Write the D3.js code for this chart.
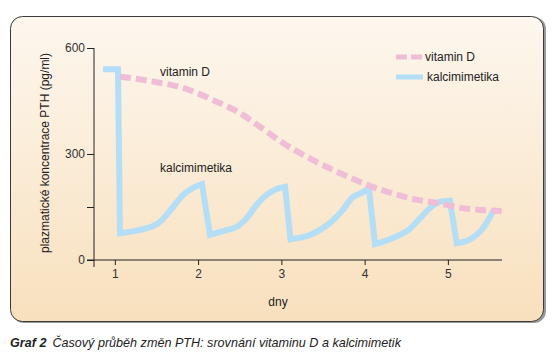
<!DOCTYPE html>
<html>
<head>
<meta charset="utf-8">
<script src="https://cdn.jsdelivr.net/npm/d3@7"></script>
<style>
body{margin:0;background:#fff;}
text{font-family:"Liberation Sans",Arial,sans-serif;fill:#222;}
</style>
</head>
<body>
<script>
(function(){
//chart data
var xTicks = [1,2,3,4,5];
var yTicks = [0,150,300,600];
var yTickLabels = ["0","","300","600"];

//vitamin D - slow decrease (day, PTH pg/ml)
var vitDDays = [1.062,1.459,1.819,2.223,2.503,2.743,3.02,3.304,3.62,4.04,4.325,4.64,4.88,5.2,5.646];
var vitDValues = [519,505,487,448,416,377,331,292,255,212,189,170,161,146,139];

//kalcimimetika - daily saw-tooth
var kalcDays = [0.858,1.038,1.062,1.302,1.543,1.699,1.819,1.939,2.047,
    2.143,2.299,2.464,2.584,2.72,2.824,2.944,3.044,
    3.11,3.344,3.584,3.74,3.845,3.965,4.053,
    4.125,4.325,4.525,4.685,4.805,4.905,5.025,
    5.106,5.286,5.406,5.485,5.545];
var kalcValues = [540,540,76,85,108,150,184,204,215,
    71,82,94,119,161,184,201,207,
    59,71,105,142,175,190,201,
    45,61,85,123,151,165,168,
    47,61,85,113,139];
//indices of points where the line has a sharp corner (dose given)
var kalcCorners = [1,2,8,9,16,17,23,24,30,31];

var seriesNames = ["vitamin D","kalcimimetika"];
var colors = ["#f0bdd7","#b4def5"];

window.onload = drawChart();

function drawChart(){
    var width = 555,
        height = 364;

    var svg = d3.select("body")
        .append("svg")
        .attr("width", width)
        .attr("height", height);

    //background gradient of the panel
    var grad = svg.append("defs")
        .append("linearGradient")
        .attr("id", "bg")
        .attr("x1", 0).attr("y1", 0)
        .attr("x2", 0).attr("y2", 1);
    grad.append("stop").attr("offset", "0%").attr("stop-color", "#fdf7ef");
    grad.append("stop").attr("offset", "100%").attr("stop-color", "#f8e0bd");

    //shadow on the right side
    svg.append("rect")
        .attr("x", 12).attr("y", 17)
        .attr("width", 534).attr("height", 306)
        .attr("rx", 12)
        .style("fill", "#9a9a9a");

    svg.append("rect")
        .attr("x", 10.5).attr("y", 16.5)
        .attr("width", 533).attr("height", 305)
        .attr("rx", 12)
        .style("fill", "url(#bg)")
        .style("stroke", "#3a3a3a")
        .style("stroke-width", 1);

    //scales
    var x = d3.scaleLinear()
        .domain([0.75, 5.65])
        .range([94, 502]);

    var y = d3.scaleLinear()
        .domain([0, 600])
        .range([260, 48]);

    //y axis
    var yAxis = d3.axisLeft(y)
        .tickValues(yTicks)
        .tickSize(7)
        .tickPadding(2)
        .tickFormat(function(d, i){ return yTickLabels[i]; });

    var gy = svg.append("g")
        .attr("transform", "translate(94,0)")
        .call(yAxis);
    gy.select(".domain").remove();
    gy.append("line")
        .attr("x1", 0).attr("x2", 0)
        .attr("y1", 48).attr("y2", 267)
        .style("stroke", "#222");

    //x axis
    var xAxis = d3.axisBottom(x)
        .tickValues(xTicks)
        .tickSize(5)
        .tickPadding(4)
        .tickSizeOuter(0)
        .tickFormat(d3.format("d"));

    var gx = svg.append("g")
        .attr("transform", "translate(0,260)")
        .call(xAxis);
    gx.select(".domain").remove();
    gx.append("line")
        .attr("x1", 87).attr("x2", 502)
        .attr("y1", 0).attr("y2", 0)
        .style("stroke", "#222");

    svg.selectAll(".tick line").style("stroke", "#222");
    svg.selectAll(".tick text")
        .style("font-size", "12px")
        .style("fill", "#333")
        .style("font-family", "'Liberation Sans',Arial,sans-serif");

    //axis titles
    svg.append("text")
        .attr("transform", "translate(49,153) rotate(-90)")
        .attr("text-anchor", "middle")
        .style("font-size", "12px")
        .text("plazmatické koncentrace PTH (pg/ml)");

    svg.append("text")
        .attr("x", 278).attr("y", 306)
        .attr("text-anchor", "middle")
        .style("font-size", "12px")
        .text("dny");

    //kalcimimetika line: smooth pieces joined at sharp corners
    var smooth = d3.line()
        .x(function(d){ return x(d[0]); })
        .y(function(d){ return y(d[1]); })
        .curve(d3.curveMonotoneX);

    var kalcPts = kalcDays.map(function(d, i){ return [d, kalcValues[i]]; });
    var cuts = [0].concat(kalcCorners).concat([kalcPts.length - 1]);
    var kalcPath = "";
    for (var c=0; c<cuts.length-1; c++){
        var piece = kalcPts.slice(cuts[c], cuts[c+1] + 1);
        var seg = smooth(piece);
        kalcPath += (c == 0) ? seg : "L" + seg.slice(1);
    };

    svg.append("path")
        .attr("d", kalcPath)
        .style("fill", "none")
        .style("stroke", colors[1])
        .style("stroke-width", 6)
        .style("stroke-linejoin", "miter");

    //vitamin D dashed line
    var vitPts = vitDDays.map(function(d, i){ return [d, vitDValues[i]]; });
    svg.append("path")
        .attr("d", smooth(vitPts))
        .style("fill", "none")
        .style("stroke", colors[0])
        .style("stroke-width", 6)
        .style("stroke-dasharray", "11,5");

    //labels inside the plot
    svg.append("text")
        .attr("x", 160).attr("y", 76)
        .style("font-size", "12px")
        .text(seriesNames[0]);

    svg.append("text")
        .attr("x", 160).attr("y", 172)
        .style("font-size", "12px")
        .text(seriesNames[1]);

    //legend
    var legend = svg.append("g");
    legend.append("line")
        .attr("x1", 396).attr("x2", 422)
        .attr("y1", 57).attr("y2", 57)
        .style("stroke", colors[0])
        .style("stroke-width", 5)
        .style("stroke-dasharray", "11,4");
    legend.append("text")
        .attr("x", 425).attr("y", 61)
        .style("font-size", "12px")
        .text(seriesNames[0]);
    legend.append("line")
        .attr("x1", 396).attr("x2", 423)
        .attr("y1", 77).attr("y2", 77)
        .style("stroke", colors[1])
        .style("stroke-width", 5);
    legend.append("text")
        .attr("x", 427).attr("y", 81)
        .style("font-size", "12px")
        .text(seriesNames[1]);

    //caption under the panel
    var cap = svg.append("text")
        .attr("x", 10).attr("y", 347)
        .style("font-size", "12.6px")
        .style("font-style", "italic");
    cap.append("tspan")
        .style("font-weight", "bold")
        .text("Graf 2");
    cap.append("tspan")
        .attr("dx", 6)
        .text("Časový průběh změn PTH: srovnání vitaminu D a kalcimimetik");
};
})();
</script>
</body>
</html>
